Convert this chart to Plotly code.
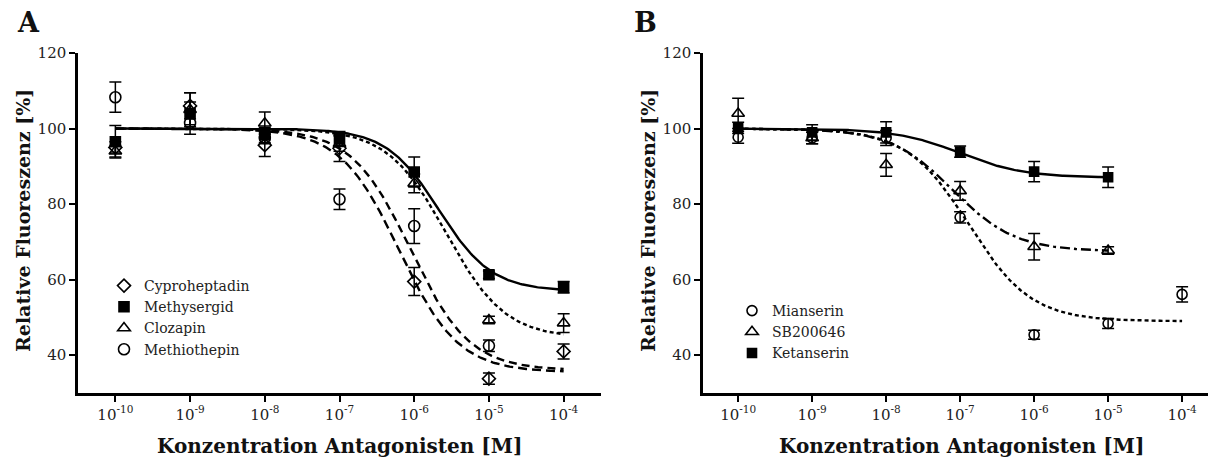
import numpy as np
import plotly.graph_objects as go

# ---------------- data ----------------
conc = [1e-10, 1e-9, 1e-8, 1e-7, 1e-6, 1e-5, 1e-4]
tick_vals = [1e-10, 1e-9, 1e-8, 1e-7, 1e-6, 1e-5, 1e-4]
tick_text = ["10<sup>-10</sup>", "10<sup>-9</sup>", "10<sup>-8</sup>", "10<sup>-7</sup>",
             "10<sup>-6</sup>", "10<sup>-5</sup>", "10<sup>-4</sup>"]
y_ticks = [40, 60, 80, 100, 120]

# Panel A
a_names = ["Cyproheptadin", "Methysergid", "Clozapin", "Methiothepin"]
cypro_y = [95.0, 106.0, 95.6, 94.8, 59.5, 33.8, 41.0]
cypro_e = [1.5, 3.5, 3.0, 3.5, 3.7, 1.5, 2.0]
methy_y = [96.5, 104.0, 98.3, 97.4, 88.5, 61.3, 58.0]
methy_e = [4.3, 3.0, 2.0, 1.8, 4.0, 1.0, 1.5]
cloza_y = [94.0, 105.0, 101.4, 96.0, 85.5, 49.3, 48.5]
cloza_e = [1.5, 4.5, 3.0, 2.0, 2.5, 1.0, 2.5]
methio_y = [108.3, 101.5, 97.5, 81.3, 74.2, 42.5, None]
methio_e = [4.0, 3.0, 1.5, 2.7, 4.6, 1.5, None]

# fitted sigmoid parameters (bottom, logIC50, hill), top = 100
a_bottom = [35.5, 57.0, 44.5, 36.0]
a_logic50 = [-6.2, -5.67, -5.57, -6.05]
a_hill = [1.1, 1.23, 1.1, 1.1]

# Panel B
b_names = ["Mianserin", "SB200646", "Ketanserin"]
mian_y = [97.7, 97.5, 97.5, 76.5, 45.4, 48.4, 56.1]
mian_e = [1.6, 1.5, 2.0, 1.5, 1.2, 1.3, 2.0]
sb_y = [104.0, 97.5, 90.4, 83.5, 68.7, 67.7, None]
sb_e = [4.0, 1.5, 3.0, 2.5, 3.5, 1.0, None]
ket_y = [100.2, 99.0, 99.0, 93.9, 88.6, 87.1, None]
ket_e = [1.5, 2.0, 2.8, 1.5, 2.7, 2.7, None]

b_bottom = [49.0, 67.5, 87.0]
b_logic50 = [-6.88, -7.1, -7.0]
b_hill = [1.03, 1.03, 1.0]
b_curve_end = [-4, -5, -5]

# ---------------- figure ----------------
W, H = 1208, 457
SERIF = "DejaVu Serif"
fig = go.Figure()


def sigmoid(logx, bottom, logic50, hill, top=100.0):
    return bottom + (top - bottom) / (1 + 10 ** ((logx - logic50) * hill))


a_data = [(cypro_y, cypro_e), (methy_y, methy_e), (cloza_y, cloza_e), (methio_y, methio_e)]
a_symbols = ["diamond-open", "square", "triangle-up-open", "circle-open"]
a_sizes = [10, 10, 11, 11]
a_dash = ["9px,5px", "solid", "4px,3px", "8px,5px"]

for i, name in enumerate(a_names):
    lx = np.linspace(-10, -4, 300)
    fig.add_trace(go.Scatter(
        x=10 ** lx, y=sigmoid(lx, a_bottom[i], a_logic50[i], a_hill[i]),
        mode="lines", line=dict(color="black", width=2.4, dash=a_dash[i]),
        showlegend=False, hoverinfo="skip", xaxis="x", yaxis="y"))

for i, name in enumerate(a_names):
    yv, ev = a_data[i]
    fig.add_trace(go.Scatter(
        x=conc, y=yv, mode="markers", name=name,
        marker=dict(symbol=a_symbols[i], size=a_sizes[i], color="black",
                    line=dict(color="black", width=1.6)),
        error_y=dict(type="data", array=ev, visible=True, color="black",
                     thickness=1.5, width=6),
        xaxis="x", yaxis="y", legend="legend"))

b_data = [(mian_y, mian_e), (sb_y, sb_e), (ket_y, ket_e)]
b_symbols = ["circle-open", "triangle-up-open", "square"]
b_sizes = [10, 11, 9]
b_dash = ["4px,3px", "10px,4px,3px,4px", "solid"]

for i, name in enumerate(b_names):
    lx = np.linspace(-10, b_curve_end[i], 300)
    fig.add_trace(go.Scatter(
        x=10 ** lx, y=sigmoid(lx, b_bottom[i], b_logic50[i], b_hill[i]),
        mode="lines", line=dict(color="black", width=2.4, dash=b_dash[i]),
        showlegend=False, hoverinfo="skip", xaxis="x2", yaxis="y2"))

for i, name in enumerate(b_names):
    yv, ev = b_data[i]
    fig.add_trace(go.Scatter(
        x=conc, y=yv, mode="markers", name=name,
        marker=dict(symbol=b_symbols[i], size=b_sizes[i], color="black",
                    line=dict(color="black", width=1.6)),
        error_y=dict(type="data", array=ev, visible=True, color="black",
                     thickness=1.5, width=6),
        xaxis="x2", yaxis="y2", legend="legend2"))

ydom = [1 - 393 / H, 1 - 53 / H]
common_x = dict(type="log", tickmode="array", tickvals=tick_vals, ticktext=tick_text,
                showline=True, linewidth=2.5, linecolor="black", ticks="outside",
                ticklen=6, tickwidth=2, tickcolor="black", showgrid=False, zeroline=False,
                tickfont=dict(family=SERIF, size=15, color="#222"), automargin=False)
common_y = dict(range=[30, 120], tickmode="array", tickvals=y_ticks,
                showline=True, linewidth=2.5, linecolor="black", ticks="outside",
                ticklen=6, tickwidth=2, tickcolor="black", showgrid=False, zeroline=False,
                tickfont=dict(family=SERIF, size=15, color="#222"), automargin=False,
                domain=ydom)

fig.update_layout(
    width=W, height=H,
    margin=dict(l=0, r=0, t=0, b=0),
    paper_bgcolor="white", plot_bgcolor="white",
    xaxis=dict(common_x, domain=[78 / W, 601 / W], range=[-10.5, -3.5], anchor="y"),
    yaxis=dict(common_y, anchor="x"),
    xaxis2=dict(common_x, domain=[703 / W, 1.0], range=[-10.475, -3.65], anchor="y2"),
    yaxis2=dict(common_y, anchor="x2"),
    legend=dict(x=104 / W, y=1 - 270 / H, xanchor="left", yanchor="top",
                bgcolor="rgba(0,0,0,0)", font=dict(family=SERIF, size=14, color="#222"),
                tracegroupgap=0, itemwidth=30),
    legend2=dict(x=732 / W, y=1 - 295 / H, xanchor="left", yanchor="top",
                 bgcolor="rgba(0,0,0,0)", font=dict(family=SERIF, size=14, color="#222"),
                 tracegroupgap=0, itemwidth=30),
    showlegend=True,
)

x_title_font = dict(family=SERIF, size=20, color="#111")
y_title_font = dict(family=SERIF, size=19, color="#111")
annotations = [
    dict(text="<b>A</b>", x=15 / W, y=1 - 22 / H, xref="paper", yref="paper",
         xanchor="left", yanchor="middle", showarrow=False,
         font=dict(family=SERIF, size=27, color="#111")),
    dict(text="<b>B</b>", x=632 / W, y=1 - 22 / H, xref="paper", yref="paper",
         xanchor="left", yanchor="middle", showarrow=False,
         font=dict(family=SERIF, size=27, color="#111")),
    dict(text="<b>Konzentration Antagonisten [M]</b>", x=339 / W, y=1 - 446 / H,
         xref="paper", yref="paper", xanchor="center", yanchor="middle",
         showarrow=False, font=x_title_font),
    dict(text="<b>Konzentration Antagonisten [M]</b>", x=961 / W, y=1 - 446 / H,
         xref="paper", yref="paper", xanchor="center", yanchor="middle",
         showarrow=False, font=x_title_font),
    dict(text="<b>Relative Fluoreszenz [%]</b>", x=23 / W, y=1 - 221 / H,
         xref="paper", yref="paper", xanchor="center", yanchor="middle",
         textangle=-90, showarrow=False, font=y_title_font),
    dict(text="<b>Relative Fluoreszenz [%]</b>", x=648 / W, y=1 - 221 / H,
         xref="paper", yref="paper", xanchor="center", yanchor="middle",
         textangle=-90, showarrow=False, font=y_title_font),
]
fig.update_layout(annotations=annotations)

fig.write_html("out.html", config={"displayModeBar": False},
               post_script="document.body.style.margin='0';document.body.style.overflow='hidden';")
